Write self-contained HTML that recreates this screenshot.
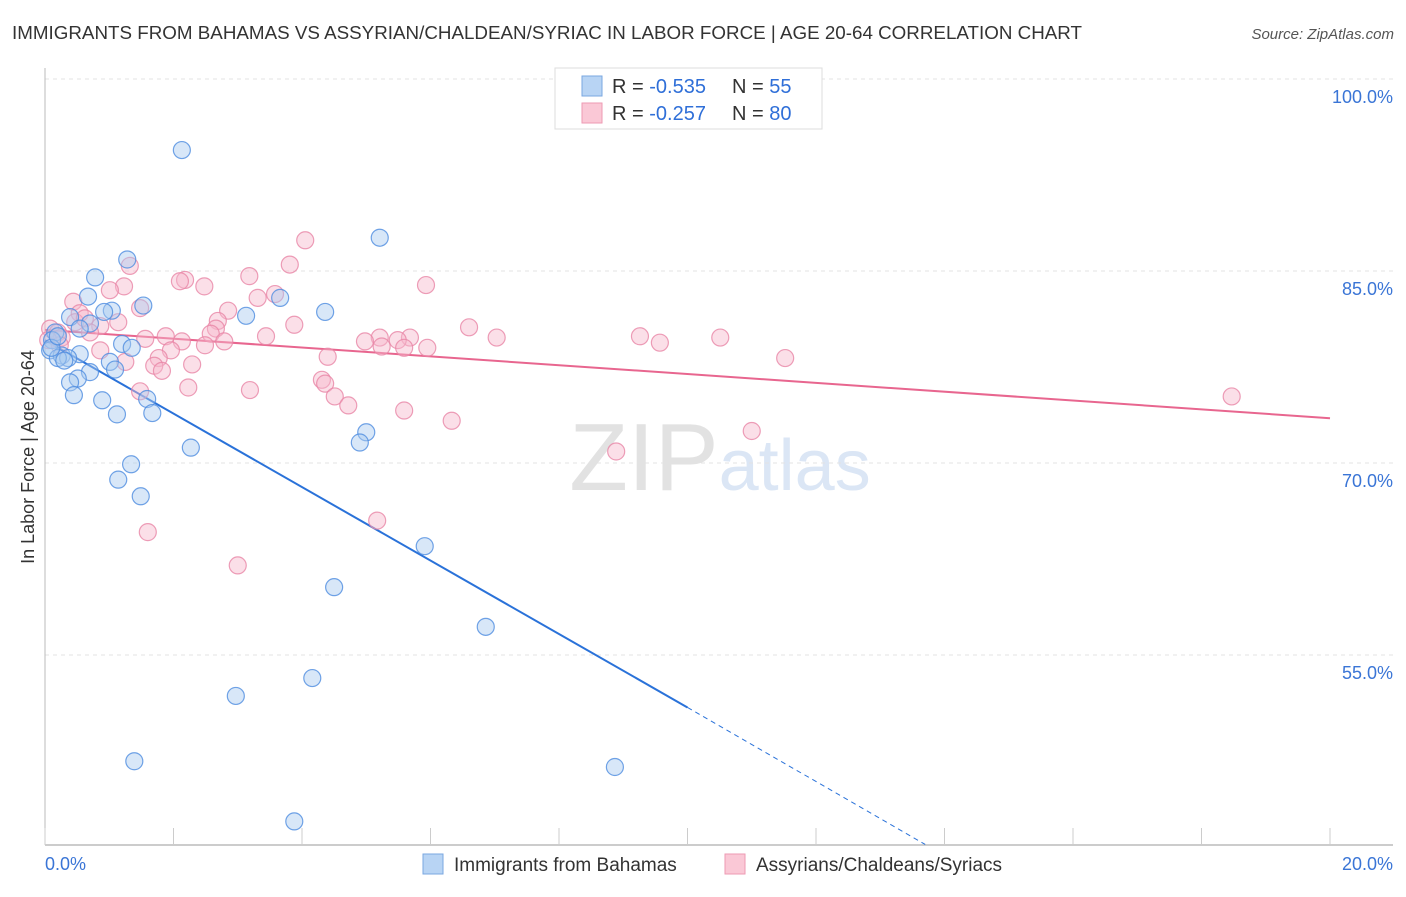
<!DOCTYPE html>
<html><head><meta charset="utf-8"><style>
body{margin:0;background:#fff;font-family:"Liberation Sans",sans-serif;}
svg text{font-family:"Liberation Sans",sans-serif;}
</style></head><body>
<svg id="chart" width="1406" height="892" viewBox="0 0 1406 892" xmlns="http://www.w3.org/2000/svg">
<text x="12" y="39" font-size="18" fill="#333" textLength="1070" lengthAdjust="spacingAndGlyphs">IMMIGRANTS FROM BAHAMAS VS ASSYRIAN/CHALDEAN/SYRIAC IN LABOR FORCE | AGE 20-64 CORRELATION CHART</text>
<text x="1394" y="39" font-size="15" fill="#555" text-anchor="end" font-style="italic">Source: ZipAtlas.com</text>
<text x="720" y="490" font-size="96" fill="#e2e2e2" text-anchor="middle" font-family="Liberation Serif">ZIP<tspan fill="#dbe6f5" font-family="Liberation Sans" font-size="72">atlas</tspan></text>
<g id="grid"></g>
<g id="axes"></g>
<g id="lines"></g>
<g id="pts"></g>
<text transform="translate(34,457) rotate(-90)" font-size="18" fill="#333" text-anchor="middle">In Labor Force | Age 20-64</text>
<g>
<rect x="555" y="68" width="267" height="61" fill="#fff" stroke="#ddd"/>
<rect x="582" y="76" width="20" height="20" fill="#b8d4f4" stroke="#7aa7e0"/>
<rect x="582" y="103" width="20" height="20" fill="#fac8d6" stroke="#ee9ab3"/>
<text x="612" y="93" font-size="20" fill="#333">R = <tspan fill="#2f6fd8">-0.535</tspan><tspan x="732">N = </tspan><tspan fill="#2f6fd8">55</tspan></text>
<text x="612" y="120" font-size="20" fill="#333">R = <tspan fill="#2f6fd8">-0.257</tspan><tspan x="732">N = </tspan><tspan fill="#2f6fd8">80</tspan></text>
</g>
<g>
<rect x="423" y="854" width="20" height="20" fill="#b8d4f4" stroke="#7aa7e0"/>
<text x="454" y="871" font-size="19" fill="#333">Immigrants from Bahamas</text>
<rect x="725" y="854" width="20" height="20" fill="#fac8d6" stroke="#ee9ab3"/>
<text x="756" y="871" font-size="19" fill="#333">Assyrians/Chaldeans/Syriacs</text>
</g>
</svg>
<script>
const blueX=[2.13,5.21,1.28,0.78,0.67,1.53,1.04,0.92,3.66,3.13,4.36,0.39,0.70,0.54,0.16,0.11,1.20,1.35,0.08,0.54,0.26,0.36,0.2,1.01,1.09,0.70,0.51,0.39,0.45,0.89,1.59,1.12,1.67,5.0,4.90,2.27,1.34,1.14,1.49,5.91,4.50,6.86,4.16,2.97,1.39,8.87,3.88,0.1,0.2,0.3];
const blueY=[94.45,87.6,85.9,84.5,83.0,82.3,81.9,81.8,82.9,81.5,81.8,81.4,80.9,80.5,80.2,79.6,79.3,79.0,78.8,78.5,78.4,78.2,78.2,77.9,77.3,77.1,76.6,76.3,75.3,74.9,75.0,73.8,73.9,72.4,71.6,71.2,69.9,68.7,67.4,63.5,60.3,57.2,53.2,51.8,46.7,46.25,42.0,79.0,79.9,78.0];
const pinkX=[4.05,3.81,1.32,3.18,2.18,2.1,5.93,2.48,1.23,1.01,3.58,3.31,0.44,1.48,2.85,0.54,2.69,3.88,1.14,6.60,2.66,0.86,2.58,9.26,10.51,7.03,3.44,1.88,5.21,5.68,5.49,4.98,1.56,2.13,2.79,9.57,5.24,5.95,5.59,2.49,0.86,1.96,4.40,1.77,11.52,1.25,2.29,1.70,1.82,4.31,4.36,2.23,3.19,1.48,4.51,18.47,4.72,5.59,6.33,11.0,8.89,5.17,1.60,3.00,0.08,0.2,0.26,0.05,0.47,0.62,0.7,0.23];
const pinkY=[87.4,85.5,85.4,84.6,84.3,84.2,83.9,83.8,83.8,83.5,83.2,82.9,82.6,82.1,81.9,81.7,81.1,80.8,81.0,80.6,80.5,80.7,80.1,79.9,79.8,79.8,79.9,79.9,79.8,79.8,79.6,79.5,79.7,79.5,79.5,79.4,79.1,79.0,79.0,79.2,78.8,78.8,78.3,78.2,78.2,77.9,77.7,77.6,77.2,76.5,76.2,75.9,75.7,75.6,75.2,75.2,74.5,74.1,73.3,72.5,70.9,65.5,64.6,62.0,80.5,80.2,79.8,79.6,81.0,81.3,80.2,79.2];
const yTicks=[100,85,70,55];
const xTickLabels=["0.0%","20.0%"];
const blueTrend=[0,79.6,10,50.9,13.7,40.2];
const pinkTrend=[0,80.4,20,73.5];
const NS="http://www.w3.org/2000/svg";
function sx(v){return 45+v/20*1285;}
function sy(v){return 79+(100-v)/15*192;}
function mk(tag,attrs,parent){const e=document.createElementNS(NS,tag);for(const k in attrs)e.setAttribute(k,attrs[k]);parent.appendChild(e);return e;}
const grid=document.getElementById('grid'),axes=document.getElementById('axes'),lines=document.getElementById('lines'),pts=document.getElementById('pts');
yTicks.forEach(t=>{
  const l=mk('line',{x1:45,x2:1393,y1:sy(t),y2:sy(t),stroke:'#e3e3e3','stroke-dasharray':'4,4'},grid);
  
  
  const tx=mk('text',{x:1393,y:sy(t)+24,'font-size':18,fill:'#3a75d6','text-anchor':'end'},grid);
  tx.textContent=t.toFixed(1)+'%';
  
  
});
const ya=mk('line',{x1:45,x2:45,y1:68,y2:845,stroke:'#bbb'},axes);


const xa=mk('line',{x1:45,x2:1393,y1:845,y2:845,stroke:'#bbb','stroke-width':1.5},axes);


for(let i=0;i<=10;i++){const t=mk('line',{x1:sx(i*2),x2:sx(i*2),y1:828,y2:845,stroke:'#ccc'},axes);

}
[[0,'start',45],[20,'end',1393]].forEach((d,i)=>{const t=mk('text',{x:d[2],y:870,'font-size':18,fill:'#3a75d6','text-anchor':d[1]},axes);t.textContent=xTickLabels[i];

});
function drawPts(X,Y,fill,stroke,name){X.forEach((x,i)=>{const c=mk('circle',{cx:sx(x),cy:sy(Y[i]),r:8.5,fill:fill,'fill-opacity':0.45,stroke:stroke,'stroke-width':1.2,'stroke-opacity':0.8},pts);

});}
drawPts(pinkX,pinkY,'#f7b8cb','#e986a6','point-assyrians');
drawPts(blueX,blueY,'#a9c9f0','#4d8ce0','point-bahamas');
const bl=mk('line',{x1:sx(blueTrend[0]),y1:sy(blueTrend[1]),x2:sx(blueTrend[2]),y2:sy(blueTrend[3]),stroke:'#2a72d9','stroke-width':2},lines);


const bd=mk('line',{x1:sx(blueTrend[2]),y1:sy(blueTrend[3]),x2:sx(blueTrend[4]),y2:sy(blueTrend[5]),stroke:'#2a72d9','stroke-width':1,'stroke-dasharray':'5,4'},lines);


const pl=mk('line',{x1:sx(pinkTrend[0]),y1:sy(pinkTrend[1]),x2:sx(pinkTrend[2]),y2:sy(pinkTrend[3]),stroke:'#e8668f','stroke-width':2},lines);


</script>
</body></html>
